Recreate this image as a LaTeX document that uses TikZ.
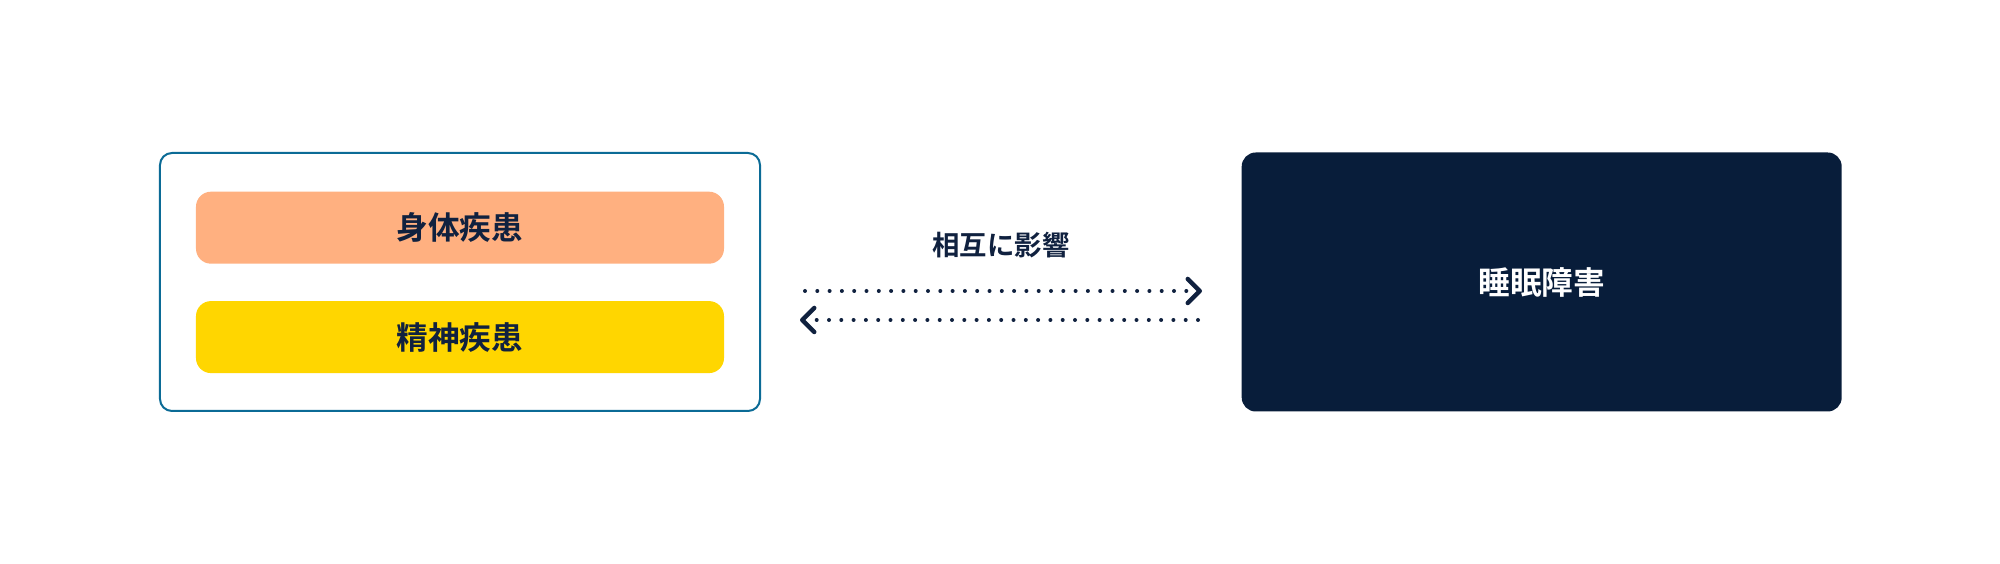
\documentclass[tikz,border=0pt]{standalone}
\usepackage{fontspec}
\setmainfont{Noto Sans CJK JP}[BoldFont={Noto Sans CJK JP Bold}]
\usetikzlibrary{arrows.meta, positioning}
\definecolor{mnavy}{HTML}{081D3A}
\definecolor{mink}{HTML}{10213F}
\definecolor{mteal}{HTML}{0B6B96}
\definecolor{mpeach}{HTML}{FFB080}
\definecolor{myellow}{HTML}{FFD600}
\tikzstyle{frame} = [rectangle, rounded corners=0.12cm, minimum width=6cm, minimum height=2.58cm, draw=mteal, line width=0.02cm, fill=white]
\tikzstyle{illness} = [rectangle, rounded corners=0.15cm, minimum width=5.28cm, minimum height=0.72cm, text=mink, font=\fontsize{9pt}{11pt}\selectfont\bfseries]
\tikzstyle{disorder} = [rectangle, rounded corners=0.14cm, minimum width=6cm, minimum height=2.59cm, fill=mnavy, text=white, font=\fontsize{9pt}{11pt}\selectfont\bfseries]
\tikzstyle{caption} = [text=mink, font=\fontsize{7.8pt}{10pt}\selectfont\bfseries]
\tikzstyle{influence} = [mink, line width=0.04cm, line cap=round, dash pattern=on 0pt off 0.123cm, -{Straight Barb[length=0.12cm, width=0.24cm, line width=0.045cm, round]}]

\begin{document}
\begin{tikzpicture}
  \useasboundingbox (-4.6,-2.82) rectangle (15.4,2.82);
  \node (group) [frame] {};
  \node (body) [illness, fill=mpeach, below = 0.39cm of group.north] {身体疾患};
  \node (mind) [illness, fill=myellow, below = 0.36cm of body] {精神疾患};
  \node (sleep) [disorder, right = 4.8cm of group] {睡眠障害};
  \path (group.east) -- node[caption, yshift=0.37cm] (effect) {相互に影響} (sleep.west);
  \draw [influence, shorten <=0.44cm, shorten >=0.39cm] ([yshift=-0.09cm]group.east) -- ([yshift=-0.09cm]sleep.west);
  \draw [influence, shorten <=0.43cm, shorten >=0.39cm] ([yshift=-0.38cm]sleep.west) -- ([yshift=-0.38cm]group.east);
\end{tikzpicture}
\end{document}
